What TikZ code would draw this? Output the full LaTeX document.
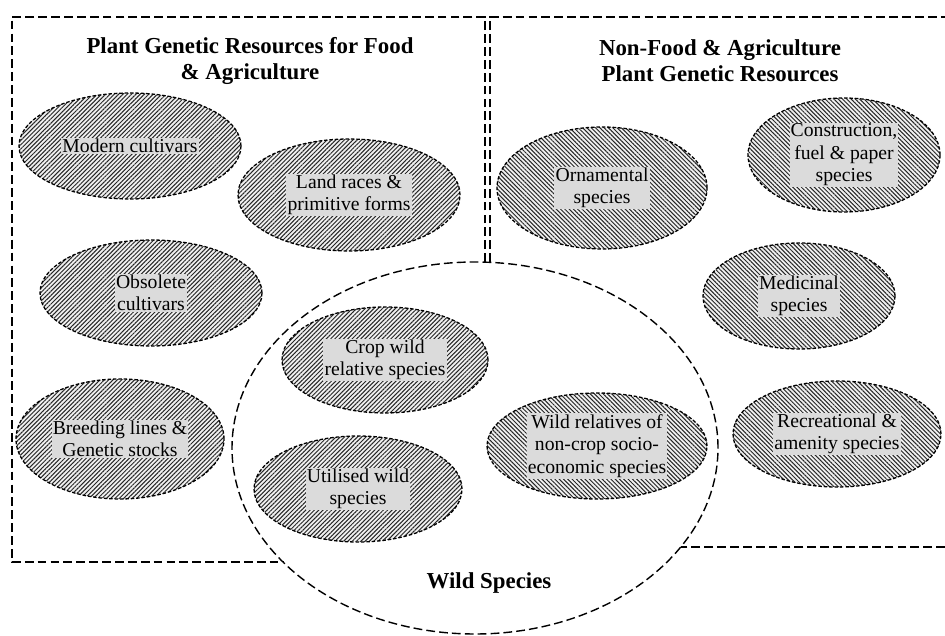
\documentclass[tikz,border=0pt]{standalone}
\usepackage{fontspec}
\setmainfont{Liberation Serif}
\usepackage{tikz}
\usetikzlibrary{
  shapes.geometric, % 椭圆节点
  patterns.meta     % 斜线填充
}
\tikzset{
  region box/.style={
    draw=black,
    line width=1.2pt,
    dash pattern=on 7.5pt off 3.5pt
  },
  food blob/.style={
    ellipse,
    inner sep=0pt,
    draw=black,
    line width=1.1pt,
    dash pattern=on 3pt off 1.6pt,
    preaction={fill=gray!12},
    pattern={Lines[angle=45, distance=2.6pt, line width=0.85pt]},
    pattern color=black!85
  },
  nonfood blob/.style={
    food blob,
    pattern={Lines[angle=-45, distance=2.6pt, line width=0.85pt]}
  },
  blob label/.style={
    fill=gray!28,
    inner sep=1pt,
    align=center,
    font=\fontsize{16.8}{19.2}\selectfont
  },
  group title/.style={
    align=center,
    font=\fontsize{19.5}{22.2}\selectfont\bfseries
  }
}
\begin{document}
\begin{tikzpicture}
  \useasboundingbox (0,0) rectangle (28.35,19.05);

  % 两个分组框（被野生种的大椭圆截断）
  \draw[region box] (14.55,11.19) -- (14.55,18.54) -- (0.36,18.54)
    -- (0.36,2.19) -- (8.49,2.19);
  \draw[region box] (14.70,11.19) -- (14.70,18.54) -- (28.35,18.54);
  \draw[region box] (28.35,2.64) -- (20.42,2.64);

  % 野生种大椭圆
  \node[region box, ellipse, inner sep=0pt,
    minimum width=14.58cm, minimum height=11.16cm]
    (wild) at (14.25,5.61) {};

  % 标题
  \node[group title] (food title) at (7.50,17.22)
    {Plant Genetic Resources for Food\\ \& Agriculture};
  \node[group title] (nonfood title) at (21.60,17.22)
    {Non-Food \& Agriculture\\ Plant Genetic Resources};
  \node[group title] (wild title) at (14.67,1.56) {Wild Species};

  % 粮食与农业类
  \node[food blob, minimum width=6.66cm, minimum height=3.18cm] (modern) at (3.90,14.67) {};
  \node[blob label] (modern text) at (modern) {Modern cultivars};
  \node[food blob, minimum width=6.66cm, minimum height=3.36cm] (landraces) at (10.47,13.20) {};
  \node[blob label] (landraces text) at (landraces) {Land races \&\\ primitive forms};
  \node[food blob, minimum width=6.66cm, minimum height=3.18cm] (obsolete) at (4.53,10.26) {};
  \node[blob label] (obsolete text) at (obsolete) {Obsolete\\ cultivars};
  \node[food blob, minimum width=6.24cm, minimum height=3.60cm] (breeding) at (3.60,5.88) {};
  \node[blob label] (breeding text) at (breeding) {Breeding lines \&\\ Genetic stocks};
  \node[food blob, minimum width=6.18cm, minimum height=3.18cm] (cropwild) at (11.55,8.25) {};
  \node[blob label] (cropwild text) at (cropwild) {Crop wild\\ relative species};
  \node[food blob, minimum width=6.24cm, minimum height=3.18cm] (utilised) at (10.74,4.38) {};
  \node[blob label] (utilised text) at (utilised) {Utilised wild\\ species};

  % 非粮食类
  \node[nonfood blob, minimum width=6.60cm, minimum height=3.18cm] (wildrel) at (17.91,5.67) {};
  \node[blob label] (wildrel text) at (wildrel) {Wild relatives of\\ non-crop socio-\\ economic species};
  \node[nonfood blob, minimum width=6.30cm, minimum height=3.66cm] (ornamental) at (18.06,13.41) {};
  \node[blob label] (ornamental text) at (ornamental) {Ornamental\\ species};
  \node[nonfood blob, minimum width=5.76cm, minimum height=3.42cm] (construction) at (25.32,14.40) {};
  \node[blob label] (construction text) at (construction) {Construction,\\ fuel \& paper\\ species};
  \node[nonfood blob, minimum width=5.76cm, minimum height=3.18cm] (medicinal) at (23.97,10.17) {};
  \node[blob label] (medicinal text) at (medicinal) {Medicinal\\ species};
  \node[nonfood blob, minimum width=6.24cm, minimum height=3.18cm] (recreational) at (25.11,6.03) {};
  \node[blob label] (recreational text) at (recreational) {Recreational \&\\ amenity species};
\end{tikzpicture}
\end{document}
